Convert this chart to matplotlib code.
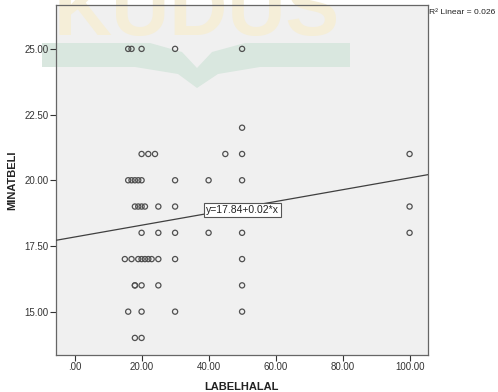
import numpy as np
import matplotlib
matplotlib.use("Agg")
import matplotlib.pyplot as plt
from matplotlib.patches import Polygon

plt.rcParams['font.family'] = ['Liberation Sans', 'DejaVu Sans']

# LABELHALAL values grouped by MINATBELI level
minat_levels = [25, 22, 21, 20, 19, 18, 17, 16, 15, 14]
label_by_level = [
    [16, 17, 20, 30, 50],
    [50],
    [20, 22, 24, 45, 50, 100],
    [16, 17, 18, 19, 20, 30, 40, 50],
    [18, 19, 20, 21, 25, 30, 50, 100],
    [20, 25, 30, 40, 50, 100],
    [15, 17, 19, 20, 21, 22, 23, 25, 30, 50],
    [18, 18, 20, 25, 50],
    [16, 20, 30, 50],
    [18, 20],
]
fit_intercept = 17.84
fit_slope = 0.0225
r2_text = "R\u00b2 Linear = 0.026"
eq_text = "y=17.84+0.02*x"
x_ticks = [0, 20, 40, 60, 80, 100]
y_ticks = [15, 17.5, 20, 22.5, 25]

x = []
y = []
for lvl, vals in zip(minat_levels, label_by_level):
    x += vals
    y += [lvl] * len(vals)

W, H = 498, 392
fig = plt.figure(figsize=(W / 100, H / 100), dpi=100)
ax = fig.add_axes([55.5 / W, 1 - 355 / H, (428 - 55.5) / W, (355 - 5) / H])
ax.set_facecolor('#f0f0f0')

# faint watermark (logo text + book shape)
def px(p):
    return [(a / W, 1 - b / H) for a, b in p]

book = [(42, 43), (150, 43), (182, 52), (197, 68), (212, 52), (245, 43), (350, 43),
        (350, 67), (260, 67), (218, 74), (197, 88), (178, 74), (135, 67), (42, 67)]
ax.add_patch(Polygon(px(book), closed=True, transform=fig.transFigure,
                     facecolor='#d9e7df', edgecolor='none', zorder=0.5, clip_on=False))
ax.text(197 / W, 1 - 35 / H, "KUDUS", transform=fig.transFigure, fontsize=58,
        fontweight='bold', color='#f5eed8', ha='center', va='baseline', zorder=0.4)

ax.scatter(x, y, s=14, facecolors='none', edgecolors='#505050', linewidths=0.9, zorder=2)

ax.set_xlim(-5.7, 105.5)
ax.set_ylim(13.35, 26.67)
xs = np.array(ax.get_xlim())
ax.plot(xs, fit_intercept + fit_slope * xs, color='#404040', lw=0.9, zorder=3)

ax.text(50, 18.86, eq_text, fontsize=7.5, color='#222222', ha='center', va='center',
        zorder=4, bbox=dict(boxstyle='square,pad=0.2', facecolor='white',
                            edgecolor='#555555', linewidth=0.8))

ax.set_xticks(x_ticks)
ax.set_xticklabels(['.00' if v == 0 else f'{v:.2f}' for v in x_ticks])
ax.set_yticks(y_ticks)
ax.set_yticklabels([f'{v:.2f}' for v in y_ticks])
ax.tick_params(labelsize=7, colors='#333333', length=4, width=0.8, direction='out', pad=1)
for s in ax.spines.values():
    s.set_color('#666666')
    s.set_linewidth(0.9)

ax.set_xlabel("LABELHALAL", fontsize=8, fontweight='bold', color='#222222', labelpad=7)
ax.set_ylabel("MINATBELI", fontsize=8, fontweight='bold', color='#222222', labelpad=5)

fig.text(429 / W, 1 - 13 / H, r2_text, fontsize=6.1, color='#222222', ha='left', va='center')

fig.savefig("out.png", dpi=100)
